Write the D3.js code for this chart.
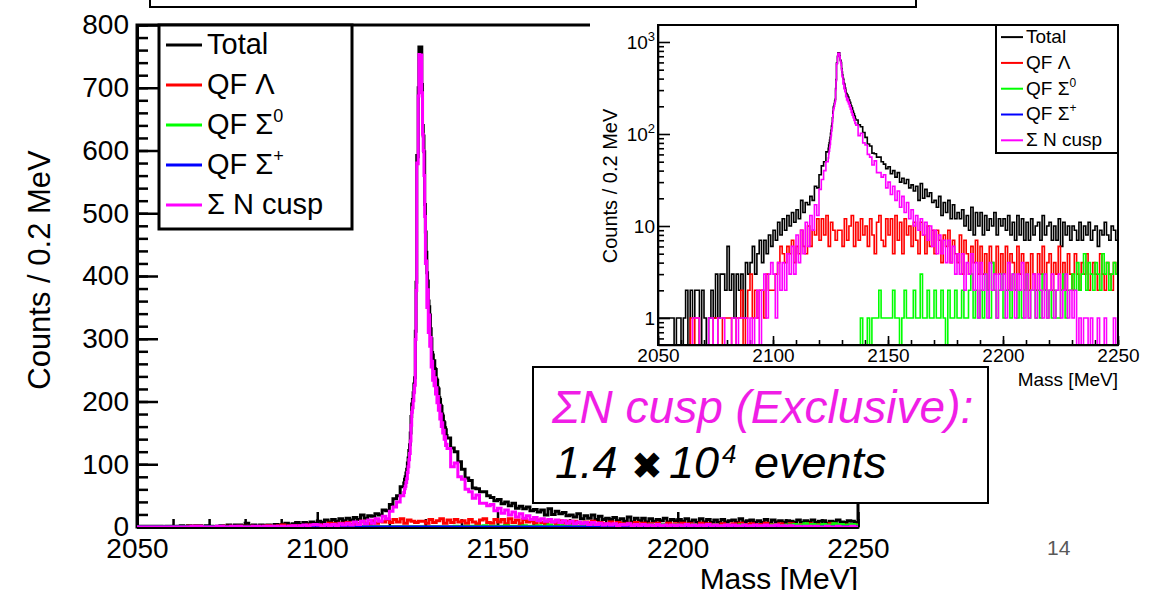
<!DOCTYPE html>
<html>
<head>
<meta charset="utf-8">
<script src="https://cdn.jsdelivr.net/npm/d3@7"></script>
<style>
  html, body { margin: 0; padding: 0; background: #fff; }
  svg { display: block; }
</style>
</head>
<body>
<svg id="fig" width="1153" height="590"></svg>
<script>
// ---- Binning -------------------------------------------------------------
// Spectra are stored as counts per 0.2 MeV. Away from the cusp the values are
// listed per 1 MeV step; inside the peak window the full 0.2 MeV bins are given.
const massMin = 2050, massMax = 2250;
const coarseStep = 1.0;
const peakStart = 2124, peakStep = 0.2;

// ---- Spectra (null = covered by the fine peak window) ---------------------
const total = [
  1, 1, 1, 1, 1, 1, 1, 0, 1, 1,        // 2050
  0, 1, 2, 0, 2, 1, 2, 2, 0, 2,        // 2060
  1, 0, 1, 2, 1, 3, 1, 3, 3, 2,        // 2070
  6, 2, 3, 1, 3, 2, 3, 1, 4, 3,        // 2080
  4, 6, 3, 5, 7, 4, 7, 5, 8, 6,        // 2090
  9, 7, 11, 8, 12, 9, 13, 10, 14, 11,  // 2100
  15, 12, 19, 14, 18, 17, 21, 19, 27, 26, // 2110
  36, 45, 50, 64, null, null, null, null, null, null, // 2120
  null, null, null, null, null, null, 142, 126, 120, 104, // 2130
  92, 78, 74, 62, 61, 56, 56, 50, 47, 42,  // 2140
  44, 37, 40, 34, 38, 30, 33, 29, 32, 26,  // 2150
  28, 24, 27, 19, 29, 20, 25, 21, 23, 18,  // 2160
  19, 16, 21, 13, 18, 14, 19, 12, 17, 12,  // 2170
  14, 12, 15, 10, 13, 9, 16, 8, 14, 10,    // 2180
  14, 8, 13, 9, 12, 10, 14, 8, 12, 10,     // 2190
  12, 9, 13, 8, 11, 7, 13, 8, 12, 7,       // 2200
  11, 7, 12, 8, 10, 11, 7, 13, 8, 10,      // 2210
  11, 7, 10, 7, 12, 6, 11, 8, 10, 7,       // 2220
  10, 9, 7, 11, 7, 10, 8, 11, 7, 9,        // 2230
  10, 6, 9, 8, 11, 8, 7, 10, 9, 7          // 2240
];

const totalPeak = [   // 2124.0 - 2135.8, 0.2 MeV bins
  70, 76, 80, 86, 92, 102, 110, 122, 131, 150,
  176, 196, 203, 214, 228, 238, 312, 390, 592, 590,
  700, 765, 762, 740, 765, 705, 640, 623, 598, 514,
  470, 438, 405, 392, 360, 351, 338, 316, 300, 278,
  274, 262, 265, 252, 251, 236, 234, 222, 220, 206,
  203, 194, 192, 180, 177, 168, 166, 158, 155, 146
];

const qfLambda = [
  0, 0, 0, 0, 0, 0, 0, 0, 0, 0,        // 2050
  0, 0, 0, 0, 1, 0, 1, 1, 0, 0,        // 2060
  0, 0, 0, 0, 1, 1, 0, 0, 1, 1,        // 2070
  1, 1, 0, 0, 1, 1, 2, 0, 1, 2,        // 2080
  3, 1, 2, 1, 2, 2, 1, 3, 2, 2,        // 2090
  2, 3, 4, 6, 5, 4, 6, 5, 7, 4,        // 2100
  6, 5, 9, 6, 5, 10, 6, 9, 8, 12,      // 2110
  7, 12, 8, 13, 6, 11, 9, 7, 9, 9,     // 2120
  6, 12, 7, 10, 13, 6, 11, 7, 12, 8,   // 2130
  10, 6, 12, 8, 5, 11, 13, 7, 6, 12,   // 2140
  8, 12, 5, 13, 7, 11, 5, 12, 8, 10,   // 2150
  6, 11, 7, 5, 11, 8, 5, 10, 6, 9,     // 2160
  5, 9, 7, 4, 8, 6, 9, 4, 7, 5,        // 2170
  4, 8, 3, 7, 5, 3, 6, 4, 7, 3,        // 2180
  6, 3, 5, 2, 6, 4, 3, 6, 3, 5,        // 2190
  3, 6, 2, 5, 4, 2, 6, 3, 5, 2,        // 2200
  4, 2, 5, 3, 2, 5, 3, 6, 2, 4,        // 2210
  5, 2, 4, 3, 6, 2, 4, 2, 5, 3,        // 2220
  2, 5, 3, 2, 4, 3, 5, 2, 3, 4,        // 2230
  3, 2, 5, 3, 2, 4, 3, 2, 4, 3         // 2240
];

const qfSigma0 = [
  0, 0, 0, 0, 0, 0, 0, 0, 0, 0,        // 2050
  0, 0, 0, 0, 0, 0, 0, 0, 0, 0,        // 2060
  0, 0, 0, 0, 0, 0, 0, 0, 0, 0,        // 2070
  0, 0, 0, 0, 0, 0, 0, 0, 0, 0,        // 2080
  0, 0, 0, 0, 0, 0, 0, 0, 0, 0,        // 2090
  0, 0, 0, 0, 0, 0, 0, 0, 0, 0,        // 2100
  0, 0, 0, 0, 0, 0, 0, 0, 0, 0,        // 2110
  0, 0, 0, 0, 0, 0, 0, 0, 0, 0,        // 2120
  0, 0, 0, 0, 0, 0, 0, 0, 1, 0,        // 2130
  0, 1, 0, 1, 1, 1, 2, 1, 1, 1,        // 2140
  1, 1, 2, 1, 1, 0, 1, 2, 1, 1,        // 2150
  1, 2, 1, 1, 3, 1, 1, 2, 1, 1,        // 2160
  2, 1, 1, 2, 1, 0, 2, 1, 1, 2,        // 2170
  1, 1, 2, 1, 1, 2, 3, 1, 2, 1,        // 2180
  2, 1, 3, 2, 1, 4, 2, 1, 2, 3,        // 2190
  1, 2, 2, 1, 3, 2, 1, 2, 1, 2,        // 2200
  3, 1, 2, 2, 1, 2, 1, 3, 2, 1,        // 2210
  2, 1, 2, 1, 1, 2, 3, 1, 2, 2,        // 2220
  3, 2, 4, 2, 3, 5, 2, 4, 3, 2,        // 2230
  4, 3, 2, 5, 3, 4, 2, 3, 4, 3         // 2240
];

const qfSigmaPlus = [
  0, 0, 0, 0, 0, 0, 0, 0, 0, 0,  0, 0, 0, 0, 0, 0, 0, 0, 0, 0,   // 2050
  0, 0, 0, 0, 0, 0, 0, 0, 0, 0,  0, 0, 0, 0, 0, 0, 0, 0, 0, 0,   // 2070
  0, 0, 0, 0, 0, 0, 0, 0, 0, 0,  0, 0, 0, 0, 0, 0, 0, 0, 0, 0,   // 2090
  0, 0, 0, 0, 0, 0, 0, 0, 0, 0,  0, 0, 0, 0, 0, 0, 0, 0, 0, 0,   // 2110
  0, 0, 0, 0, 0, 0, 0, 0, 0, 0,  0, 0, 0, 0, 0, 0, 0, 0, 0, 0,   // 2130
  0, 0, 0, 0, 0, 0, 0, 0, 0, 0,  0, 0, 0, 0, 0, 0, 0, 0, 0, 0,   // 2150
  0, 0, 0, 0, 0, 0, 0, 0, 0, 0,  0, 0, 0, 0, 0, 0, 0, 0, 0, 0,   // 2170
  0, 0, 0, 0, 0, 0, 0, 0, 0, 0,  0, 0, 0, 0, 0, 0, 0, 0, 0, 0,   // 2190
  0, 0, 0, 0, 0, 0, 0, 0, 0, 0,  0, 0, 0, 0, 0, 0, 0, 0, 0, 0,   // 2210
  0, 0, 0, 0, 0, 0, 0, 0, 0, 0,  0, 0, 0, 0, 0, 0, 0, 0, 0, 0    // 2230
];

const cusp = [
  0, 0, 0, 0, 0, 0, 0, 0, 0, 0,        // 2050
  0, 0, 0, 0, 0, 1, 1, 1, 0, 0,        // 2060
  0, 0, 1, 1, 0, 0, 1, 1, 1, 0,        // 2070
  0, 0, 1, 1, 0, 1, 1, 1, 1, 0,        // 2080
  1, 0, 1, 2, 0, 2, 3, 1, 3, 4,        // 2090
  3, 1, 4, 2, 4, 2, 5, 3, 6, 3,        // 2100
  8, 4, 9, 5, 11, 6, 13, 9, 17, 13,    // 2110
  25, 32, 40, 50, null, null, null, null, null, null, // 2120
  null, null, null, null, null, null, 125, 96, 102, 80, // 2130
  76, 60, 56, 46, 51, 38, 38, 34, 36, 26, // 2140
  30, 22, 27, 19, 24, 16, 21, 14, 18, 12, // 2150
  15, 10, 13, 9, 12, 8, 11, 7, 10, 6,     // 2160
  9, 5, 8, 5, 7, 4, 7, 4, 6, 3,        // 2170
  5, 3, 5, 2, 4, 3, 5, 2, 4, 1,        // 2180
  4, 2, 3, 1, 4, 2, 3, 1, 3, 2,        // 2190
  3, 1, 4, 2, 3, 1, 3, 2, 4, 1,        // 2200
  3, 1, 2, 3, 1, 3, 2, 1, 3, 1,        // 2210
  2, 3, 1, 2, 3, 1, 2, 3, 1, 2,        // 2220
  1, 2, 0, 1, 0, 1, 1, 0, 1, 0,        // 2230
  0, 1, 0, 0, 1, 0, 0, 0, 1, 0         // 2240
];

const cuspPeak = [    // 2124.0 - 2135.8, 0.2 MeV bins
  55, 61, 65, 71, 77, 87, 96, 107, 117, 137,
  162, 183, 190, 201, 215, 226, 299, 377, 580, 579,
  687, 753, 749, 728, 752, 692, 626, 600, 560, 495,
  420, 424, 350, 378, 310, 338, 288, 302, 255, 264,
  234, 248, 225, 238, 212, 222, 198, 208, 186, 194,
  172, 180, 160, 166, 150, 154, 140, 144, 130, 132
];

// ---- Axis ticks and labels -----------------------------------------------
const massTicks = [2050, 2100, 2150, 2200, 2250];
const countTicks = [0, 100, 200, 300, 400, 500, 600, 700, 800];
const logTicks = [1, 10, 100, 1000];
const legendNames = ["Total", "QF \u039B", "QF \u03A3", "QF \u03A3", "\u03A3 N cusp"];
const legendSups = ["", "", "0", "+", ""];
const seriesColors = ["#000000", "#ff0000", "#00ff00", "#0000ff", "#ff00ff"];

const FONT = "'Liberation Sans', Arial, Helvetica, sans-serif";

// Build variable-width bins, splicing the fine peak window into the coarse list.
function makeBins(coarse, fine) {
  const out = [];
  coarse.forEach((v, i) => {
    if (v === null) return;
    const lo = massMin + i * coarseStep;
    out.push({ x0: lo, x1: lo + coarseStep, v });
  });
  if (fine) {
    fine.forEach((v, i) => {
      out.push({ x0: peakStart + i * peakStep, x1: peakStart + (i + 1) * peakStep, v });
    });
  }
  out.sort((a, b) => a.x0 - b.x0);
  return out;
}

const seriesBins = [
  makeBins(total, totalPeak),
  makeBins(qfLambda),
  makeBins(qfSigma0),
  makeBins(qfSigmaPlus),
  makeBins(cusp, cuspPeak)
];

// Step outline of a histogram: horizontal at each bin content, vertical joins.
function histPath(bins, x, yv) {
  const pts = bins.map(b => [x(b.x0), yv(b.v)]);
  const last = bins[bins.length - 1];
  pts.push([x(last.x1), yv(last.v)]);
  return d3.line().curve(d3.curveStepAfter)(pts);
}

function styleAxisText(sel, size) {
  sel.attr("font-family", null).attr("font-size", null);
  sel.selectAll("text")
    .attr("font-family", FONT)
    .attr("font-size", size)
    .attr("fill", "#000");
}

const svg = d3.select("#fig");
const defs = svg.append("defs");

// ======================= Main panel (linear) ===============================
const xMain = d3.scaleLinear().domain([massMin, massMax]).range([137, 858]);
const yMain = d3.scaleLinear().domain([0, 800]).range([527, 25]);

defs.append("clipPath").attr("id", "clipMain").append("rect")
  .attr("x", xMain.range()[0]).attr("y", yMain.range()[1])
  .attr("width", xMain.range()[1] - xMain.range()[0])
  .attr("height", yMain.range()[0] - yMain.range()[1]);

const gMain = svg.append("g");

gMain.append("rect")
  .attr("x", xMain.range()[0]).attr("y", yMain.range()[1])
  .attr("width", xMain.range()[1] - xMain.range()[0])
  .attr("height", yMain.range()[0] - yMain.range()[1])
  .attr("fill", "none").attr("stroke", "#000").attr("stroke-width", 3);

// y axis: major and minor ticks pointing into the frame
const gyMinor = gMain.append("g")
  .attr("transform", `translate(${xMain.range()[0]},0)`)
  .call(d3.axisLeft(yMain).tickValues(d3.range(0, 801, 20))
    .tickSizeInner(-11).tickSizeOuter(0).tickFormat(""));
gyMinor.selectAll(".tick line").attr("stroke-width", 2.5);
gyMinor.select(".domain").attr("stroke-width", 3);

const gy = gMain.append("g")
  .attr("transform", `translate(${xMain.range()[0]},0)`)
  .call(d3.axisLeft(yMain).tickValues(countTicks)
    .tickSizeInner(-21).tickSizeOuter(0).tickPadding(8));
gy.selectAll(".tick line").attr("stroke-width", 2.5);
gy.select(".domain").attr("stroke-width", 3);
styleAxisText(gy, 28);

// x axis
const gxMinor = gMain.append("g")
  .attr("transform", `translate(0,${yMain.range()[0]})`)
  .call(d3.axisBottom(xMain).tickValues(d3.range(massMin, massMax + 1, 10))
    .tickSizeInner(-8).tickSizeOuter(0).tickFormat(""));
gxMinor.selectAll(".tick line").attr("stroke-width", 2.5);
gxMinor.select(".domain").attr("stroke-width", 3);

const gx = gMain.append("g")
  .attr("transform", `translate(0,${yMain.range()[0]})`)
  .call(d3.axisBottom(xMain).tickValues(massTicks)
    .tickSizeInner(-15).tickSizeOuter(0).tickPadding(11).tickFormat(d3.format("d")));
gx.selectAll(".tick line").attr("stroke-width", 2.5);
gx.select(".domain").attr("stroke-width", 3);
styleAxisText(gx, 28);

// histograms
const gHistMain = gMain.append("g").attr("clip-path", "url(#clipMain)");
seriesBins.forEach((bins, k) => {
  gHistMain.append("path")
    .attr("d", histPath(bins, xMain, v => yMain(v)))
    .attr("fill", "none")
    .attr("stroke", seriesColors[k])
    .attr("stroke-width", 3)
    .attr("stroke-linejoin", "miter");
});

// axis titles
gMain.append("text")
  .attr("transform", "translate(50,270) rotate(-90)")
  .attr("text-anchor", "middle")
  .attr("font-family", FONT).attr("font-size", 31)
  .text("Counts / 0.2 MeV");

gMain.append("text")
  .attr("x", xMain.range()[1]).attr("y", 589)
  .attr("text-anchor", "end")
  .attr("font-family", FONT).attr("font-size", 30)
  .text("Mass [MeV]");

// legend
function drawLegend(g, box, rowY, lineX0, lineX1, textX, fontSize, lineW, supSize, supShift, strokeW) {
  g.append("rect")
    .attr("x", box.x).attr("y", box.y).attr("width", box.w).attr("height", box.h)
    .attr("fill", "#fff").attr("stroke", "#000").attr("stroke-width", strokeW);
  legendNames.forEach((name, i) => {
    const base = rowY(i);
    g.append("line")
      .attr("x1", lineX0).attr("x2", lineX1)
      .attr("y1", base - fontSize * 0.31).attr("y2", base - fontSize * 0.31)
      .attr("stroke", seriesColors[i]).attr("stroke-width", lineW);
    const t = g.append("text")
      .attr("x", textX).attr("y", base)
      .attr("font-family", FONT).attr("font-size", fontSize)
      .text(name);
    if (legendSups[i]) {
      t.append("tspan")
        .attr("dy", -supShift)
        .attr("font-size", supSize)
        .text(legendSups[i]);
    }
  });
}

drawLegend(gMain.append("g"), { x: 159, y: 25, w: 193, h: 204 },
  i => 54 + i * 40, 166, 202, 207, 29, 3, 18, 12, 3);

// ======================= Inset panel (log) =================================
const gInset = svg.append("g");

gInset.append("rect")
  .attr("x", 590).attr("y", 10).attr("width", 563).attr("height", 382)
  .attr("fill", "#fff");

const xIn = d3.scaleLinear().domain([massMin, massMax]).range([658, 1118]);
const yIn = d3.scaleLog().domain([0.509, 1530]).range([345, 25]);
const logFloor = yIn.domain()[0];

defs.append("clipPath").attr("id", "clipInset").append("rect")
  .attr("x", xIn.range()[0]).attr("y", yIn.range()[1])
  .attr("width", xIn.range()[1] - xIn.range()[0])
  .attr("height", yIn.range()[0] - yIn.range()[1]);

// log minor ticks
const logMinor = [];
[0.1, 1, 10, 100].forEach(dec => {
  for (let m = 2; m <= 9; m++) {
    const v = dec * m;
    if (v >= yIn.domain()[0] && v <= yIn.domain()[1]) logMinor.push(v);
  }
});

const gyInMinor = gInset.append("g")
  .attr("transform", `translate(${xIn.range()[0]},0)`)
  .call(d3.axisLeft(yIn).tickValues(logMinor)
    .tickSizeInner(-6).tickSizeOuter(0).tickFormat(""));
gyInMinor.selectAll(".tick line").attr("stroke-width", 1.6);

const gyIn = gInset.append("g")
  .attr("transform", `translate(${xIn.range()[0]},0)`)
  .call(d3.axisLeft(yIn).tickValues(logTicks)
    .tickSizeInner(-12).tickSizeOuter(0).tickPadding(3).tickFormat(""));
gyIn.selectAll(".tick line").attr("stroke-width", 1.6);
gyIn.select(".domain").attr("stroke-width", 1.6);
styleAxisText(gyIn, 19);
gyIn.selectAll(".tick text").each(function (d) {
  const t = d3.select(this);
  const e = Math.round(Math.log10(d));
  if (e === 0) t.text("1");
  else if (e === 1) t.text("10");
  else {
    t.text("10");
    t.append("tspan").attr("dy", -8).attr("font-size", 13).text(String(e));
  }
});

const gxInMinor = gInset.append("g")
  .attr("transform", `translate(0,${yIn.range()[0]})`)
  .call(d3.axisBottom(xIn).tickValues(d3.range(massMin, massMax + 1, 10))
    .tickSizeInner(-5).tickSizeOuter(0).tickFormat(""));
gxInMinor.selectAll(".tick line").attr("stroke-width", 1.6);

const gxIn = gInset.append("g")
  .attr("transform", `translate(0,${yIn.range()[0]})`)
  .call(d3.axisBottom(xIn).tickValues(massTicks)
    .tickSizeInner(-9).tickSizeOuter(0).tickPadding(4).tickFormat(d3.format("d")));
gxIn.selectAll(".tick line").attr("stroke-width", 1.6);
gxIn.select(".domain").attr("stroke-width", 1.6);
styleAxisText(gxIn, 19);

// histograms (empty bins drop to the bottom of the frame)
const gHistIn = gInset.append("g").attr("clip-path", "url(#clipInset)");
seriesBins.forEach((bins, k) => {
  gHistIn.append("path")
    .attr("d", histPath(bins, xIn, v => yIn(Math.max(v, logFloor))))
    .attr("fill", "none")
    .attr("stroke", seriesColors[k])
    .attr("stroke-width", 1.6);
});

gInset.append("rect")
  .attr("x", xIn.range()[0]).attr("y", yIn.range()[1])
  .attr("width", xIn.range()[1] - xIn.range()[0])
  .attr("height", yIn.range()[0] - yIn.range()[1])
  .attr("fill", "none").attr("stroke", "#000").attr("stroke-width", 2);

gInset.append("text")
  .attr("transform", "translate(617,186) rotate(-90)")
  .attr("text-anchor", "middle")
  .attr("font-family", FONT).attr("font-size", 20)
  .text("Counts / 0.2 MeV");

gInset.append("text")
  .attr("x", xIn.range()[1]).attr("y", 386)
  .attr("text-anchor", "end")
  .attr("font-family", FONT).attr("font-size", 19)
  .text("Mass [MeV]");

drawLegend(gInset.append("g"), { x: 996, y: 25, w: 122, h: 128 },
  i => 43 + i * 25.8, 1001, 1023, 1026, 19, 2, 12, 8, 2);

// ======================= Slide annotations =================================
svg.append("rect")
  .attr("x", 150).attr("y", -10).attr("width", 766).attr("height", 17)
  .attr("fill", "#fff").attr("stroke", "#000").attr("stroke-width", 2);

const gNote = svg.append("g");
gNote.append("rect")
  .attr("x", 533).attr("y", 367).attr("width", 455).attr("height", 136)
  .attr("fill", "#fff").attr("stroke", "#000").attr("stroke-width", 2);

gNote.append("text")
  .attr("x", 552).attr("y", 423)
  .attr("font-family", FONT).attr("font-size", 46).attr("font-style", "italic")
  .attr("fill", "#f01ee6")
  .text("\u03A3N cusp (Exclusive):");

const noteFont = { "font-family": FONT, "font-size": 45, "font-style": "italic", "fill": "#000" };
function noteText(x, y, str, extra) {
  const t = gNote.append("text").attr("x", x).attr("y", y).text(str);
  Object.entries(Object.assign({}, noteFont, extra || {})).forEach(([k, v]) => t.attr(k, v));
  return t;
}
noteText(555, 478, "1.4");
noteText(631, 479, "\u2716\uFE0E", { "font-family": "'DejaVu Sans', sans-serif", "font-size": 38, "font-style": "normal" });
noteText(669, 478, "10");
noteText(722, 463, "4", { "font-size": 26 });
noteText(754, 478, "events");

svg.append("text")
  .attr("x", 1047).attr("y", 555)
  .attr("font-family", FONT).attr("font-size", 21)
  .attr("fill", "#595959")
  .text("14");
</script>
</body>
</html>
